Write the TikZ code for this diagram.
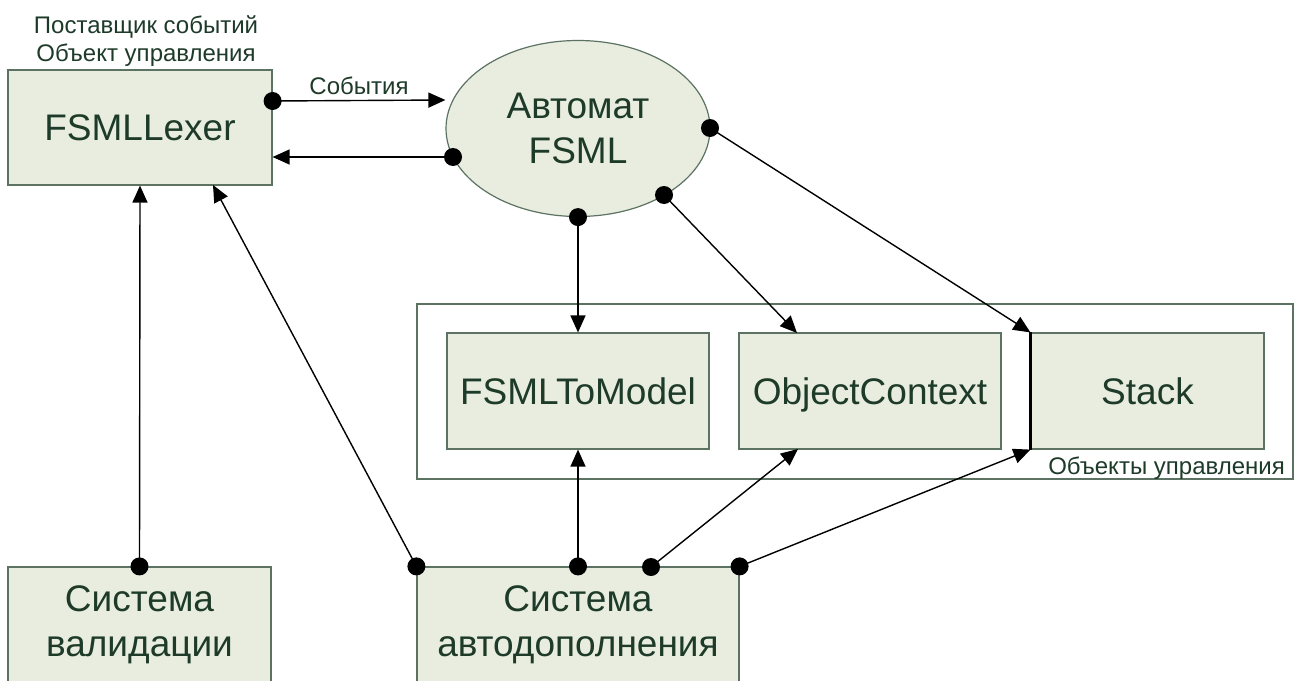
\documentclass[tikz,border=0pt]{standalone}
\usepackage{fontspec}
\setmainfont{Liberation Sans}
\usetikzlibrary{arrows.meta,shapes.geometric}
\definecolor{boxfill}{HTML}{E9EDE0}
\definecolor{boxline}{HTML}{5C7262}
\definecolor{txt}{HTML}{1E3B2A}
\begin{document}
\begin{tikzpicture}[x=1pt,y=-1pt,
  blk/.style={draw=boxline,fill=boxfill,line width=1.2pt,inner sep=0pt,
     text=txt,font=\fontsize{37}{45}\selectfont,align=center},
  conn/.style={line width=1.4pt,-{Triangle[length=17pt,width=15pt]}},
  dotc/.style={fill=black},
  small/.style={text=txt,font=\fontsize{24}{28}\selectfont,inner sep=0pt}]
\useasboundingbox (0,0) rectangle (1301,680);
\fill[white] (0,0) rectangle (1301,680);
% container
\node[draw=boxline,line width=1.2pt,minimum width=876pt,minimum height=175pt,inner sep=0pt] (ctr) at (855,391.5) {};
% boxes
\node[blk,minimum width=264pt,minimum height=115pt] (lexer) at (140,127.5) {FSMLLexer};
\node[blk,ellipse,minimum width=264pt,minimum height=176pt] (fsm) at (578,128.5) {Автомат\\FSML};
\node[blk,minimum width=262pt,minimum height=116pt] (model) at (578,391) {FSMLToModel};
\node[blk,minimum width=262pt,minimum height=116pt,text depth=0pt] (ctx) at (870,391) {ObjectContext};
\node[blk,minimum width=233pt,minimum height=116pt] (stack) at (1147.5,391) {Stack};
\node[blk,minimum width=263pt,minimum height=115pt] (valid) at (139.5,624.5) {Система\\валидации};
\node[blk,minimum width=322pt,minimum height=115pt] (auto) at (578,624.5) {Система\\автодополнения};
\draw[line width=2.4pt] (stack.north west) -- (stack.south west);
% labels
\node[small,anchor=base] (lbl1) at (146,33) {Поставщик событий};
\node[small,anchor=base] (lbl2) at (146,61) {Объект управления};
\node[small,anchor=base east,font=\fontsize{24}{28}\selectfont] (lbl3) at (1285,474) {Объекты управления};
% ports
\coordinate (pA) at (lexer.east |- 0,101);
\coordinate (pB) at (fsm.west |- 0,100);
\coordinate (pC) at (453,157);
\coordinate (pD) at (lexer.east |- 0,157);
\coordinate (pE) at (664,195);
\coordinate (pF) at (710,128);
\coordinate (pG) at (797,333);
\coordinate (pH) at (213,185);
\coordinate (pI) at (651,567);
\coordinate (pJ) at (798,449);
% connectors
\draw[conn] (pA) -- node[small,above=5pt,pos=0.5] (evt) {События} (pB);
\draw[conn] (pC) -- (pD);
\draw[conn] (fsm.south) -- (model.north);
\draw[conn] (pE) -- (pG);
\draw[conn] (pF) -- (stack.north west);
\draw[conn] (valid.north) -- (lexer.south);
\draw[conn] (auto.north west) -- (pH);
\draw[conn] (auto.north) -- (model.south);
\draw[conn] (pI) -- (pJ);
\draw[conn] (auto.north east) -- (stack.south west);
% dots
\foreach \p in {pA,pC,pE,pF,fsm.south,valid.north,auto.north west,auto.north,pI,auto.north east}
  \fill[dotc] (\p) circle (9);
\end{tikzpicture}
\end{document}
